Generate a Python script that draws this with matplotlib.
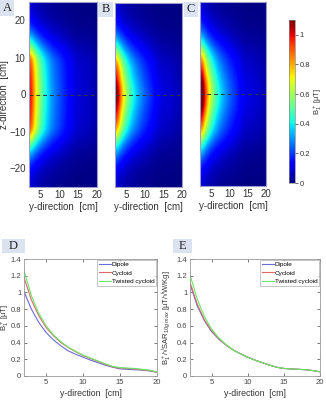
import numpy as np
import matplotlib
matplotlib.use("Agg")
import matplotlib.pyplot as plt
from matplotlib.patches import Rectangle

plt.rcParams['font.family'] = ['Liberation Sans', 'DejaVu Sans']
plt.rcParams['mathtext.fontset'] = 'custom'
plt.rcParams['mathtext.rm'] = 'Liberation Sans'
plt.rcParams['mathtext.it'] = 'Liberation Sans:italic'

# === data ===
coils = ["Dipole", "Cycloid", "Twisted cycloid"]
y_cm = [2, 3, 4, 5, 6, 7, 8, 9, 10, 11, 12, 13, 14, 15, 16, 17, 18, 19, 20]

# B1+ along y at z=0 [uT] (panel D)
b1_dipole = [1.01, 0.80, 0.64, 0.52, 0.43, 0.36, 0.30, 0.26, 0.225, 0.19, 0.16, 0.13,
             0.105, 0.085, 0.08, 0.075, 0.07, 0.06, 0.045]
b1_cycloid = [1.18, 0.91, 0.72, 0.58, 0.48, 0.40, 0.34, 0.29, 0.245, 0.21, 0.175, 0.14,
              0.11, 0.095, 0.09, 0.085, 0.075, 0.065, 0.045]
b1_twisted = [1.26, 0.96, 0.75, 0.60, 0.49, 0.41, 0.345, 0.295, 0.25, 0.215, 0.18, 0.145,
              0.115, 0.10, 0.095, 0.09, 0.08, 0.07, 0.05]

# B1+/sqrt(SAR10g max) (panel E)
eff_dipole = [1.10, 0.84, 0.66, 0.53, 0.44, 0.37, 0.31, 0.265, 0.225, 0.19, 0.16, 0.13,
              0.105, 0.09, 0.085, 0.08, 0.075, 0.065, 0.05]
eff_cycloid = [1.12, 0.86, 0.67, 0.54, 0.445, 0.37, 0.31, 0.265, 0.225, 0.19, 0.16, 0.13,
               0.105, 0.09, 0.085, 0.08, 0.075, 0.065, 0.05]
eff_twisted = [1.21, 0.92, 0.71, 0.56, 0.455, 0.375, 0.31, 0.265, 0.225, 0.19, 0.16, 0.13,
               0.105, 0.09, 0.085, 0.08, 0.075, 0.065, 0.05]

z_half = [0, 2.5, 5, 7.5, 10, 12.5, 15, 17.5, 20, 22.5, 25]
zprof_dipole = [1.0, 0.99, 0.97, 0.94, 0.90, 0.67, 0.45, 0.28, 0.17, 0.11, 0.08]
zprof_cycloid = [1.0, 0.95, 0.86, 0.79, 0.68, 0.50, 0.34, 0.22, 0.14, 0.09, 0.07]
zprof_twisted = [1.0, 0.97, 0.88, 0.78, 0.68, 0.52, 0.35, 0.23, 0.15, 0.10, 0.07]

W, H = 326, 400
fig = plt.figure(figsize=(W / 100, H / 100), dpi=100)


def fbox(x0, y0, x1, y1):
    # pixel box (from top-left) -> figure fraction rect
    return [x0 / W, 1 - y1 / H, (x1 - x0) / W, (y1 - y0) / H]


def letter(txt, x0, y0, x1, y1):
    fig.patches.append(Rectangle((x0 / W, 1 - y1 / H), (x1 - x0) / W, (y1 - y0) / H,
                                 transform=fig.transFigure, facecolor='#dce3f0',
                                 edgecolor='none', zorder=0))
    fig.text((x0 + x1) / 2 / W, 1 - (y0 + y1) / 2 / H, txt, ha='center', va='center',
             family='Liberation Serif', fontsize=9, color='#222222')


maps = [(b1_dipole, zprof_dipole), (b1_cycloid, zprof_cycloid), (b1_twisted, zprof_twisted)]
map_boxes = [(29, 2, 97, 187), (115, 3, 182, 187), (200, 2, 266, 186)]
letters_top = [("A", 0, 0, 14, 16), ("B", 98, 2, 113, 17), ("C", 184, 2, 198, 17)]

z_full = [-z for z in z_half[::-1]] + z_half[1:]
im = None
for i, ((prof, zp), box) in enumerate(zip(maps, map_boxes)):
    ax = fig.add_axes(fbox(*box))
    zp_full = zp[::-1] + zp[1:]
    field = np.outer(np.array(zp_full), np.array(prof))
    im = ax.imshow(field, cmap='jet', vmin=0, vmax=1.1, origin='lower', aspect='auto',
                   extent=[y_cm[0], y_cm[-1], z_full[0], z_full[-1]],
                   interpolation='bicubic')
    ax.plot([y_cm[0], y_cm[-1]], [0, 0], ls='--', color='#333333', lw=0.7, dashes=(4, 3))
    ax.set_xlim(2, 20)
    ax.set_ylim(-25, 25)
    ax.set_xticks([5, 10, 15, 20])
    ax.set_yticks([20, 10, 0, -10, -20])
    ax.tick_params(length=0, labelsize=7, colors='#333333', pad=2.5)
    if i > 0:
        ax.set_yticklabels([])
    else:
        ax.set_ylabel("z-direction  [cm]", fontsize=7, color='#333333')
        ax.yaxis.set_label_coords((9 - box[0]) / (box[2] - box[0]), 0.5)
    ax.set_xlabel("y-direction  [cm]", fontsize=7, color='#333333', labelpad=1)
    for s in ax.spines.values():
        s.set_color('#9a9acb')
        s.set_linewidth(0.8)

for t in letters_top:
    letter(*t)

cax = fig.add_axes(fbox(289, 20, 295, 183))
cb = fig.colorbar(im, cax=cax, ticks=[0, 0.2, 0.4, 0.6, 0.8, 1])
cb.ax.set_yticklabels(["0", "0.2", "0.4", "0.6", "0.8", "1"])
cb.ax.tick_params(labelsize=5.5, length=2, colors='#333333', width=0.5, pad=1.5)
cb.outline.set_edgecolor('#888888')
cb.outline.set_linewidth(0.5)
cb.set_label("B$_1^+$ [\u00b5T]", fontsize=5.5, color='#333333', labelpad=1)

line_colors = ['#6b6bd8', '#e06868', '#66e866']


def profile_panel(box, series, ylabel, label_x):
    ax = fig.add_axes(fbox(*box))
    for vals, name, c in zip(series, coils, line_colors):
        ax.plot(y_cm, vals, color=c, lw=0.8, label=name)
    ax.set_xlim(2, 20)
    ax.set_ylim(0, 1.4)
    ax.set_xticks([5, 10, 15, 20])
    ax.set_yticks([0, 0.2, 0.4, 0.6, 0.8, 1.0, 1.2, 1.4])
    ax.set_yticklabels(["0", "0.2", "0.4", "0.6", "0.8", "1", "1.2", "1.4"])
    ax.tick_params(direction='in', length=2, width=0.5, labelsize=5.5, colors='#444444',
                   top=True, right=True, pad=2)
    for s in ax.spines.values():
        s.set_color('#999999')
        s.set_linewidth(0.6)
    ax.set_xlabel("y-direction  [cm]", fontsize=6.3, color='#333333', labelpad=2)
    ax.set_ylabel(ylabel, fontsize=5.5, color='#333333')
    ax.yaxis.set_label_coords((label_x - box[0]) / (box[2] - box[0]), 0.5)
    leg = ax.legend(loc='upper right', fontsize=4.6, handlelength=1.8, handletextpad=0.2,
                    borderpad=0.3, labelspacing=0.5, borderaxespad=0.1, fancybox=False,
                    frameon=True)
    leg.get_frame().set_edgecolor('#999999')
    leg.get_frame().set_linewidth(0.5)
    return ax


profile_panel((24, 259, 157, 376), [b1_dipole, b1_cycloid, b1_twisted],
              "B$_1^+$ [\u00b5T]", 11)
profile_panel((190, 259, 320, 376), [eff_dipole, eff_cycloid, eff_twisted],
              "B$_1^+$/\u221aSAR$_{10g\\ max}$ [\u00b5T/\u221aW/Kg]", 172)

letter("D", 2, 239, 25, 253)
letter("E", 173, 239, 192, 253)

fig.savefig("out.png", dpi=100)
